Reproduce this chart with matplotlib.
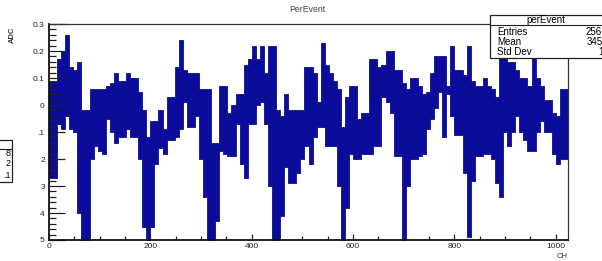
import numpy as np
import matplotlib.pyplot as plt
from matplotlib.patches import Rectangle

# per-bin band (8 channels per bin, 0..1024), upper / lower edge of the ADC band
ch_edges = np.arange(0, 1025, 8)
upper = [0.09, 0.09, 0.17, 0.20, 0.26, 0.14, 0.13, 0.16, -0.02, -0.02,
         0.06, 0.06, 0.06, 0.06, 0.07, 0.08, 0.12, 0.09, 0.09, 0.12,
         0.10, 0.10, 0.05, -0.02, -0.12, -0.06, -0.06, -0.02, -0.09, 0.03,
         0.03, 0.14, 0.24, 0.13, 0.12, 0.12, 0.12, 0.06, 0.06, 0.06,
         -0.14, -0.14, 0.07, 0.07, -0.03, 0.00, 0.04, 0.04, 0.15, 0.17,
         0.22, 0.17, 0.22, 0.12, 0.22, 0.22, -0.02, -0.04, 0.04, -0.02,
         -0.02, -0.02, -0.02, 0.14, 0.14, 0.12, 0.01, 0.23, 0.15, 0.12,
         0.09, 0.06, -0.08, 0.03, 0.07, 0.07, -0.05, -0.03, -0.03, 0.17,
         0.17, 0.14, 0.15, 0.20, 0.20, 0.13, 0.13, 0.08, 0.06, 0.10,
         0.10, 0.07, 0.04, 0.05, 0.12, 0.18, 0.18, 0.18, 0.07, 0.22,
         0.13, 0.13, 0.11, 0.22, 0.09, 0.07, 0.07, 0.10, 0.07, 0.06,
         0.03, 0.20, 0.20, 0.16, 0.16, 0.13, 0.10, 0.10, 0.07, 0.20,
         0.10, 0.07, 0.02, 0.02, -0.03, -0.04, 0.06, 0.06]
lower = [-0.27, -0.27, -0.07, -0.09, -0.04, -0.09, -0.10, -0.40, -0.50, -0.50,
         -0.20, -0.15, -0.17, -0.18, -0.05, -0.10, -0.14, -0.12, -0.12, -0.09,
         -0.12, -0.12, -0.20, -0.45, -0.50, -0.45, -0.22, -0.16, -0.18, -0.13,
         -0.13, -0.12, -0.09, 0.01, -0.08, -0.08, -0.04, -0.20, -0.34, -0.50,
         -0.50, -0.43, -0.17, -0.18, -0.19, -0.19, -0.07, -0.22, -0.27, -0.07,
         -0.07, 0.00, 0.01, -0.07, -0.30, -0.50, -0.50, -0.41, -0.23, -0.29,
         -0.29, -0.25, -0.20, -0.15, -0.22, -0.12, -0.08, -0.08, -0.15, -0.15,
         -0.15, -0.30, -0.50, -0.38, -0.18, -0.20, -0.20, -0.18, -0.18, -0.18,
         -0.15, -0.15, 0.03, 0.01, -0.03, -0.19, -0.19, -0.50, -0.30, -0.20,
         -0.20, -0.19, -0.18, -0.09, -0.05, -0.01, 0.05, -0.12, 0.04, -0.04,
         -0.11, -0.11, -0.25, -0.49, -0.28, -0.19, -0.19, -0.18, -0.18, -0.20,
         -0.29, -0.34, -0.10, -0.15, -0.10, -0.04, -0.10, -0.13, -0.17, -0.17,
         -0.10, -0.06, -0.10, -0.10, -0.18, -0.22, -0.20, -0.20]
ytick_vals = [0.3, 0.2, 0.1, 0, -0.1, -0.2, -0.3, -0.4, -0.5]
ytick_text = ['0.3', '0.2', '0.1', '0', '.1', '2', '3', '4', '5']
xtick_vals = [0, 200, 400, 600, 800, 1000]

plt.rcParams['font.family'] = 'Liberation Sans'
W, H = 602, 261
fig = plt.figure(figsize=(W / 100, H / 100), dpi=100)

def fx(x):
    return x / W

def fy(y):
    return 1 - y / H

ax = fig.add_axes([fx(49), fy(240), fx(568) - fx(49), fy(24) - fy(240)])
blue = '#0c0c9a'
up = np.append(upper, upper[-1])
lo = np.append(lower, lower[-1])
ax.fill_between(ch_edges, lo, up, step='post', color=blue, lw=0.6, edgecolor=blue)

ax.set_xlim(0, 1024)
ax.set_ylim(-0.5, 0.3)
ax.set_xticks(xtick_vals)
ax.set_xticks(np.arange(0, 1024, 50), minor=True)
ax.set_yticks(ytick_vals)
ax.set_yticklabels(ytick_text)
ax.set_yticks(np.arange(-0.5, 0.301, 0.02), minor=True)
ax.tick_params(axis='both', which='both', direction='in', labelsize=6,
               colors='#222222', width=0.9)
ax.tick_params(axis='y', which='major', length=11.5, pad=3)
ax.tick_params(axis='y', which='minor', length=5)
ax.tick_params(axis='x', which='major', length=4.5, pad=2)
ax.tick_params(axis='x', which='minor', length=3)
for s in ['left', 'bottom']:
    ax.spines[s].set_linewidth(1.3)
    ax.spines[s].set_color('#111111')
for s in ['top', 'right']:
    ax.spines[s].set_linewidth(0.9)
    ax.spines[s].set_color('#333333')

# titles / axis names
fig.text(fx(307), fy(10), 'PerEvent', ha='center', va='center', fontsize=6.3, color='#444444')
fig.text(fx(12), fy(35), 'ADC', ha='center', va='center', rotation=90, fontsize=5.5,
         fontweight='bold', color='#333333')
fig.text(fx(562), fy(257), 'CH', ha='center', va='center', fontsize=5.5, color='#333333')

# stats box (runs past the right edge, as in the original)
fig.patches.append(Rectangle((fx(490), fy(58)), fx(640) - fx(490), fy(15) - fy(58),
                             transform=fig.transFigure, facecolor='white',
                             edgecolor='#222222', lw=0.9, zorder=5))
fig.lines.append(plt.Line2D([fx(490), fx(640)], [fy(25), fy(25)],
                            transform=fig.transFigure, color='#222222', lw=0.8, zorder=6))
fig.text(fx(546), fy(20), 'perEvent', ha='center', va='center', fontsize=7, zorder=7)
for y, name, val, vx in [(32, 'Entries', '256', 586), (42, 'Mean', '345.2', 587),
                         (52, 'Std Dev', '197.4', 598)]:
    fig.text(fx(497), fy(y), name, ha='left', va='center', fontsize=7, zorder=7)
    fig.text(fx(vx), fy(y), val, ha='left', va='center', fontsize=7, zorder=7)

# clipped box at the left edge
fig.patches.append(Rectangle((fx(-20), fy(182)), fx(12) + 20 / W, fy(140) - fy(182),
                             transform=fig.transFigure, facecolor='white',
                             edgecolor='#222222', lw=0.9, zorder=5))
fig.lines.append(plt.Line2D([0, fx(12)], [fy(149), fy(149)],
                            transform=fig.transFigure, color='#222222', lw=0.8, zorder=6))
for y, t in [(154, '8'), (164, '2'), (175, '.1')]:
    fig.text(fx(11), fy(y), t, ha='right', va='center', fontsize=6.5, zorder=7)

fig.savefig('out.png', dpi=100)
